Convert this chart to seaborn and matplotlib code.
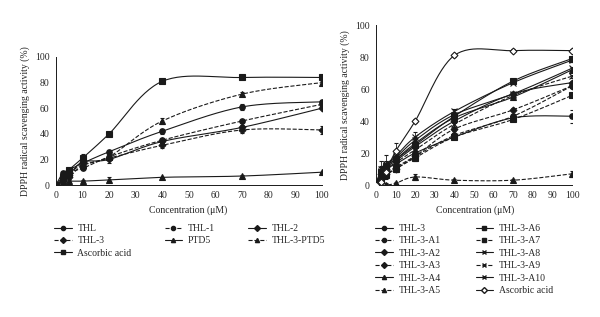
import numpy as np
import pandas as pd
import seaborn as sns
import matplotlib.pyplot as plt
from matplotlib.lines import Line2D

# concentrations (uM)
conc = [0, 2.5, 5, 10, 20, 40, 70, 100]

# left panel: name -> values
left_vals = {
    "THL":           [0, 9, 12, 17, 26, 42, 61, 65],
    "THL-1":         [0, 5, 10, 13, 22, 35, 50, 63],
    "THL-2":         [0, 4, 8, 18, 20, 34, 45, 60],
    "THL-3":         [0, 3, 6, 15, 21, 31, 43, 43],
    "PTD5":          [0, 3, 3, 3, 4, 6, 7, 10],
    "THL-3-PTD5":    [0, 4, 9, 16, 22, 50, 71, 80],
    "Ascorbic acid": [0, 6, 12, 21, 40, 81, 84, 84],
}
left_err = {
    "THL":           [0, 1, 1, 2, 1, 2, 2.5, 1.5],
    "THL-1":         [0, 1, 1, 1, 1, 1, 1, 1],
    "THL-2":         [0, 1, 1, 1, 2.5, 1.5, 1.5, 1],
    "THL-3":         [0, 1, 1, 1, 1, 2, 2, 3],
    "PTD5":          [0, 1, 1, 1, 2, 0.5, 0.5, 0.5],
    "THL-3-PTD5":    [0, 1, 1, 1, 1, 2.5, 1.5, 1],
    "Ascorbic acid": [0, 1, 1, 3, 1, 1, 1, 1],
}
left_style = {
    "THL": ("o", "-"), "THL-1": ("o", "--"), "THL-2": ("D", "-"),
    "THL-3": ("D", "--"), "PTD5": ("^", "-"), "THL-3-PTD5": ("^", "--"),
    "Ascorbic acid": ("s", "-"),
}

# right panel
right_vals = {
    "THL-3":         [0, 6, 10, 13, 20, 30, 42, 43],
    "THL-3-A1":      [0, 5, 8, 11, 18, 31, 43, 62],
    "THL-3-A2":      [0, 7, 11, 15, 24, 40, 57, 64],
    "THL-3-A3":      [0, 4, 7, 10, 18, 35, 47, 62],
    "THL-3-A4":      [0, 8, 12, 16, 26, 42, 55, 72],
    "THL-3-A5":      [0, 0, 0, 1, 5, 3, 3, 7],
    "THL-3-A6":      [0, 8, 12, 16, 25, 43, 65, 79],
    "THL-3-A7":      [0, 3, 6, 10, 17, 30, 41, 56],
    "THL-3-A8":      [0, 9, 13, 17, 28, 44, 57, 73],
    "THL-3-A9":      [0, 6, 10, 14, 22, 38, 56, 68],
    "THL-3-A10":     [0, 10, 13, 18, 30, 46, 64, 78],
    "Ascorbic acid": [0, 2, 8, 21, 40, 81, 84, 84],
}
right_err = {name: [0, 3, 2, 2, 2, 1.5, 1, 1] for name in right_vals}
right_err["THL-3"] = [0, 4, 3, 2, 2, 1.5, 1, 4]
right_err["THL-3-A5"] = [0, 1, 1, 1, 2, 0.5, 0.5, 2]
right_err["THL-3-A10"] = [0, 5, 6, 3, 3, 1.5, 1, 1]
right_err["Ascorbic acid"] = [0, 1, 1, 5, 1, 1, 1, 1]
right_style = {
    "THL-3": ("o", "-"), "THL-3-A1": ("o", "--"), "THL-3-A2": ("D", "-"),
    "THL-3-A3": ("D", "--"), "THL-3-A4": ("^", "-"), "THL-3-A5": ("^", "--"),
    "THL-3-A6": ("s", "-"), "THL-3-A7": ("s", "--"), "THL-3-A8": ("x", "-"),
    "THL-3-A9": ("x", "--"), "THL-3-A10": ("x", "-"), "Ascorbic acid": ("D", "-"),
}

INK = "#1a1a1a"
SERIF = "Liberation Serif"


def smooth(xs, ys, n=30):
    """Excel-like smoothed line (cubic Bezier through the points)."""
    p = np.column_stack([xs, ys]).astype(float)
    ext = np.vstack([p[0], p, p[-1]])
    out = []
    t = np.linspace(0, 1, n)[:, None]
    for i in range(1, len(ext) - 2):
        p0, p1, p2, p3 = ext[i - 1], ext[i], ext[i + 1], ext[i + 2]
        c1 = p1 + (p2 - p0) / 6
        c2 = p2 - (p3 - p1) / 6
        seg = ((1 - t) ** 3) * p1 + 3 * ((1 - t) ** 2) * t * c1 + 3 * (1 - t) * t ** 2 * c2 + t ** 3 * p2
        out.append(seg)
    return np.vstack(out)


def draw_panel(ax, vals, errs, styles, open_name=None):
    for name, ys in vals.items():
        marker, ls = styles[name]
        curve = smooth(conc, ys)
        df = pd.DataFrame({"x": curve[:, 0], "y": curve[:, 1]})
        sns.lineplot(data=df, x="x", y="y", ax=ax, sort=False, estimator=None,
                     color=INK, linewidth=0.8, linestyle=ls)
        face = "white" if name == open_name else INK
        ms = 3.5 if marker == "D" else 4
        ax.errorbar(conc, ys, yerr=errs[name], fmt=marker, ms=ms, mfc=face,
                    mec=INK, mew=0.8, ecolor=INK, elinewidth=0.6, capsize=1.5,
                    zorder=3)
    ax.set_xlim(0, 100)
    ax.set_ylim(0, 100)
    ax.set_xticks(range(0, 101, 10))
    ax.set_yticks(range(0, 101, 20))
    ax.set_xlabel("")
    ax.set_ylabel("DPPH radical scavenging activity (%)", fontsize=7, family=SERIF)
    ax.tick_params(direction="out", length=2.5, width=0.7, labelsize=7, pad=2)
    for lab in ax.get_xticklabels() + ax.get_yticklabels():
        lab.set_family(SERIF)
    sns.despine(ax=ax)
    for s in ("left", "bottom"):
        ax.spines[s].set_linewidth(0.7)
        ax.spines[s].set_color(INK)


def handles_for(names, styles, open_name=None):
    hs = []
    for name in names:
        marker, ls = styles[name]
        face = "white" if name == open_name else INK
        hs.append(Line2D([], [], color=INK, linestyle=ls, linewidth=0.8, marker=marker,
                         ms=3, mfc=face, mec=INK, label=name))
    return hs


sns.set_style("white")
fig = plt.figure(figsize=(6.0, 3.17), dpi=100)
ax1 = fig.add_axes([0.0933, 0.4164, 0.443, 0.4038])
ax2 = fig.add_axes([0.6267, 0.4164, 0.3267, 0.5047])

draw_panel(ax1, left_vals, left_err, left_style)
draw_panel(ax2, right_vals, right_err, right_style, open_name="Ascorbic acid")

fig.text(188 / 600, 1 - 210 / 317, "Concentration (\u03bcM)", ha="center", va="center",
         fontsize=7, family=SERIF)
fig.text(475 / 600, 1 - 210 / 317, "Concentration (\u03bcM)", ha="center", va="center",
         fontsize=7, family=SERIF)

leg_kw = dict(frameon=False, loc="upper left", prop={"family": SERIF, "size": 7},
              handlelength=1.8, handletextpad=0.6, labelspacing=0.35,
              borderaxespad=0, borderpad=0)
left_order = ["THL", "THL-3", "Ascorbic acid", "THL-1", "PTD5", "THL-2", "THL-3-PTD5"]
fig.legend(handles=handles_for(left_order, left_style), ncol=3,
           bbox_to_anchor=(54 / 600, 1 - 224 / 317), columnspacing=3.4, **leg_kw)
fig.legend(handles=handles_for(list(right_vals), right_style, "Ascorbic acid"), ncol=2,
           bbox_to_anchor=(375 / 600, 1 - 224 / 317), columnspacing=3.6, **leg_kw)

fig.savefig("out.png", dpi=100)
